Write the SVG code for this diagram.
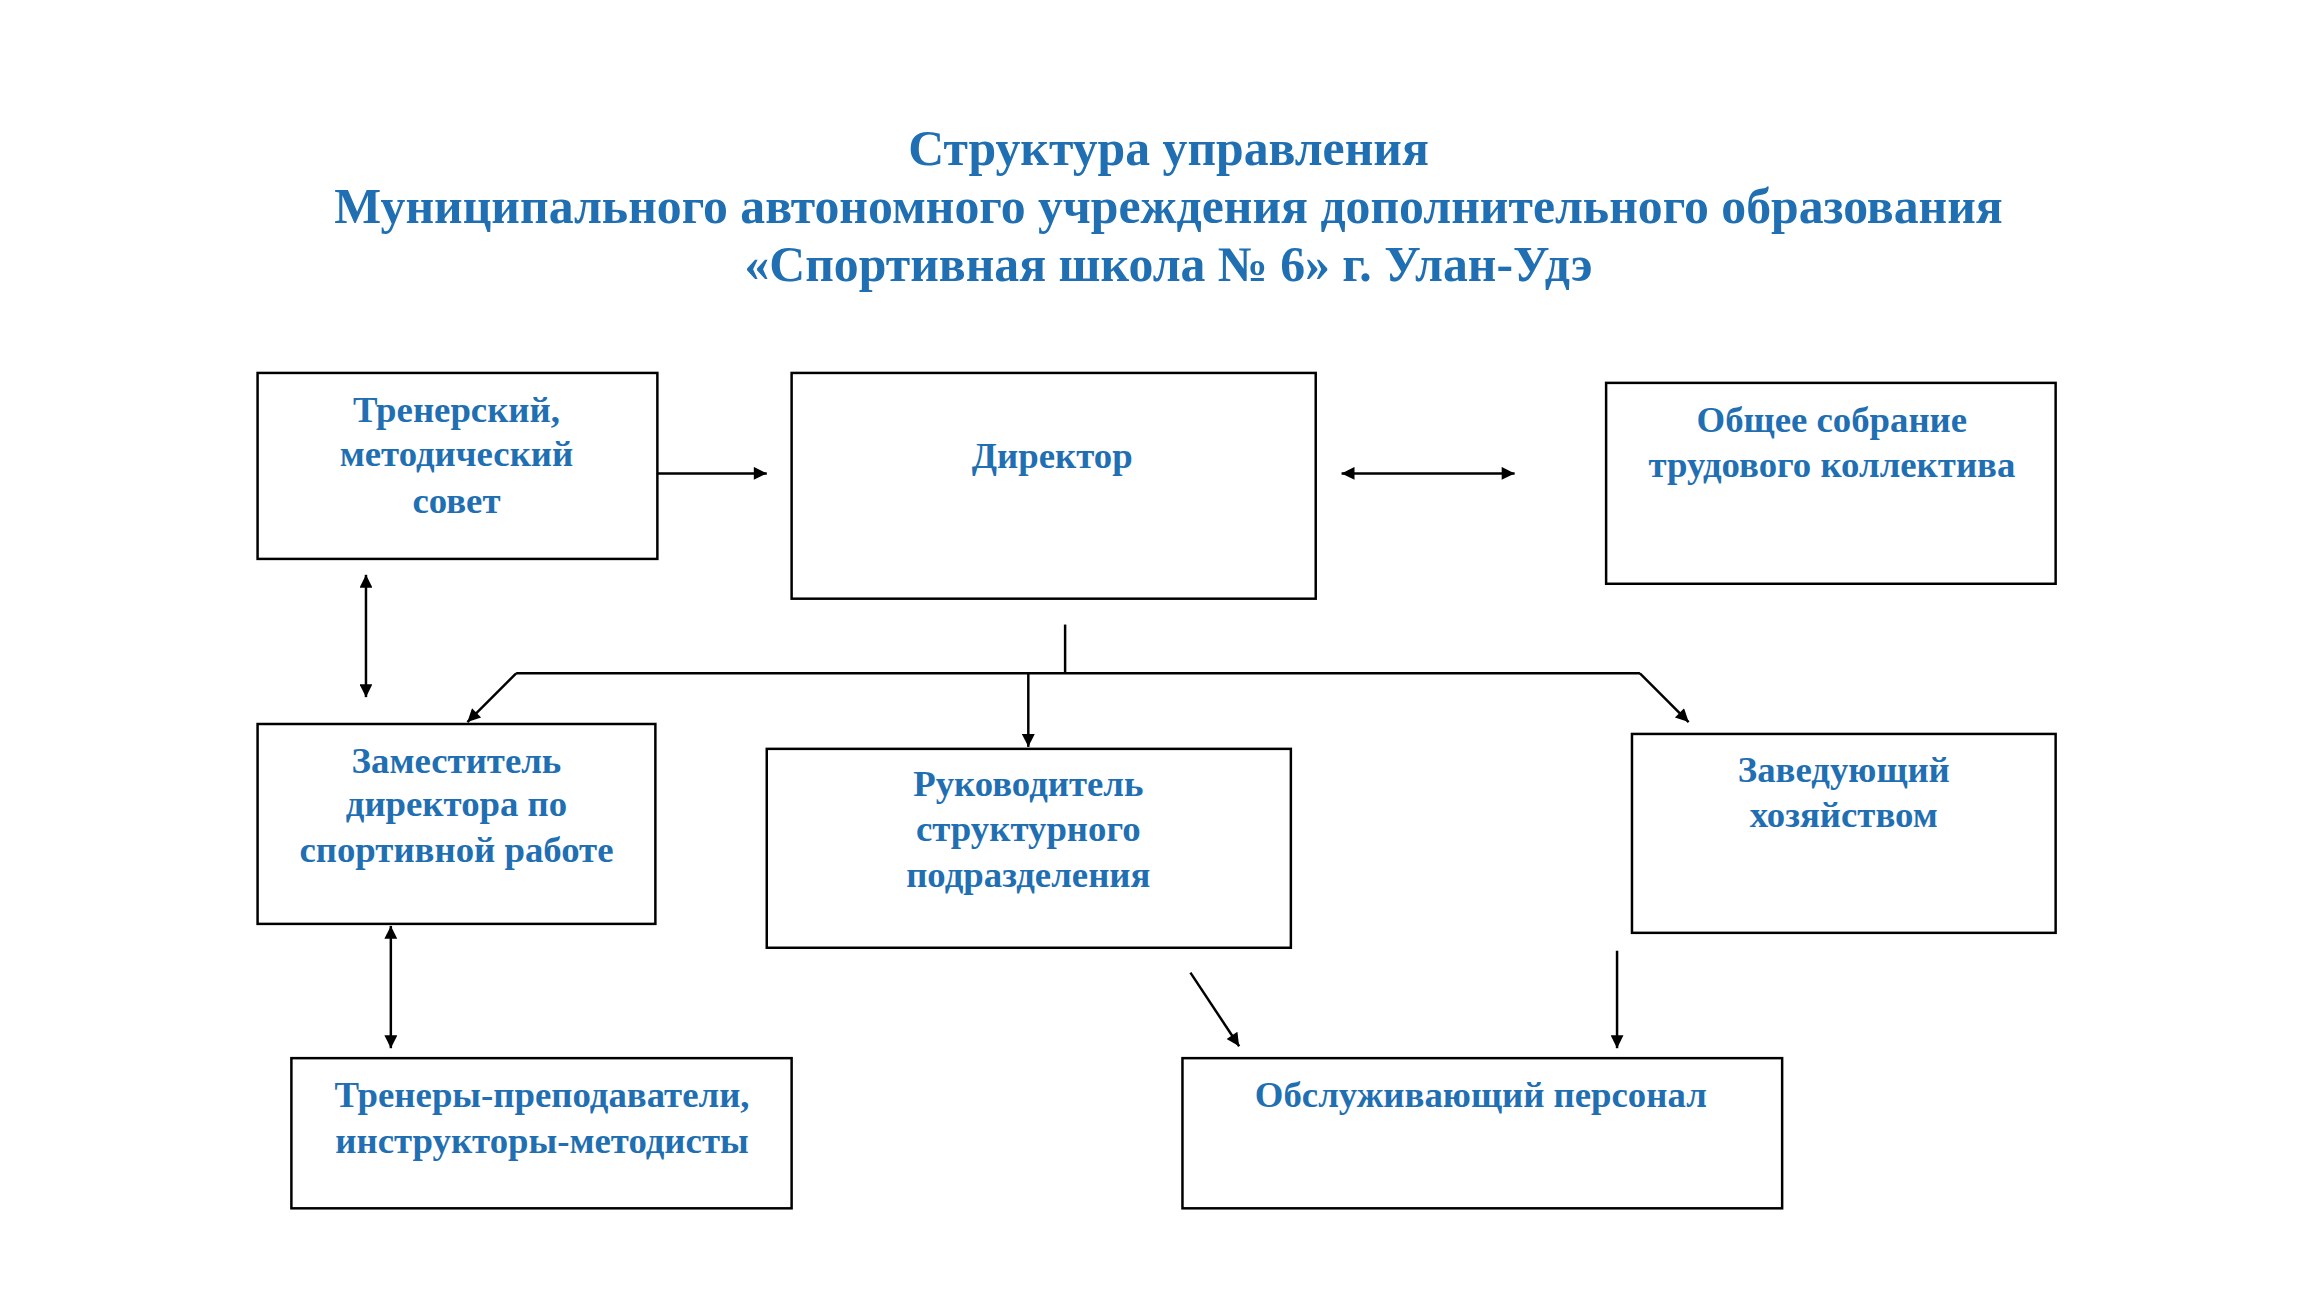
<svg xmlns="http://www.w3.org/2000/svg" width="2312" height="1316" viewBox="0 0 2312 1316">
<style>
.b{fill:#fff;stroke:#000;stroke-width:2.5}
.t{font-family:"Liberation Serif",serif;font-weight:bold;font-size:37px;fill:#1f6fb2;text-anchor:middle}
.h{font-family:"Liberation Serif",serif;font-weight:bold;font-size:50px;fill:#1f6fb2;text-anchor:middle}
.c{stroke:#000;stroke-width:2.5;fill:none}
</style>
<defs>
<marker id="a" viewBox="0 0 10 10" refX="10" refY="5" markerWidth="18" markerHeight="13" orient="auto-start-reverse" markerUnits="userSpaceOnUse"><path d="M0,0L10,5L0,10z" fill="#000"/></marker>
</defs>
<rect width="2312" height="1316" fill="#fff"/>
<g transform="scale(0.9945)">
<g id="title">
<text class="h" x="1175" y="166">Структура управления</text>
<text class="h" x="1175" y="224">Муниципального автономного учреждения дополнительного образования</text>
<text class="h" x="1175" y="283">«Спортивная школа № 6» г. Улан-Удэ</text>
</g>
<g id="n1"><rect class="b" x="259" y="375" width="402" height="187"/>
<text class="t" x="459" y="424">Тренерский,</text><text class="t" x="459" y="469">методический</text><text class="t" x="459" y="516">совет</text></g>
<g id="n2"><rect class="b" x="796" y="375" width="527" height="227"/>
<text class="t" x="1058" y="471">Директор</text></g>
<g id="n3"><rect class="b" x="1615" y="385" width="452" height="202"/>
<text class="t" x="1842" y="434">Общее собрание</text><text class="t" x="1842" y="480">трудового коллектива</text></g>
<g id="n4"><rect class="b" x="259" y="728" width="400" height="201"/>
<text class="t" x="459" y="777">Заместитель</text><text class="t" x="459" y="821">директора по</text><text class="t" x="459" y="867">спортивной работе</text></g>
<g id="n5"><rect class="b" x="771" y="753" width="527" height="200"/>
<text class="t" x="1034" y="800">Руководитель</text><text class="t" x="1034" y="846">структурного</text><text class="t" x="1034" y="892">подразделения</text></g>
<g id="n6"><rect class="b" x="1641" y="738" width="426" height="200"/>
<text class="t" x="1854" y="786">Заведующий</text><text class="t" x="1854" y="832">хозяйством</text></g>
<g id="n7"><rect class="b" x="293" y="1064" width="503" height="151"/>
<text class="t" x="545" y="1113">Тренеры-преподаватели,</text><text class="t" x="545" y="1159">инструкторы-методисты</text></g>
<g id="n8"><rect class="b" x="1189" y="1064" width="603" height="151"/>
<text class="t" x="1489" y="1113">Обслуживающий персонал</text></g>
<g id="connectors">
<line class="c" x1="661" y1="476" x2="771" y2="476" marker-end="url(#a)"/>
<line class="c" x1="1349" y1="476" x2="1523" y2="476" marker-start="url(#a)" marker-end="url(#a)"/>
<line class="c" x1="368" y1="578" x2="368" y2="701" marker-start="url(#a)" marker-end="url(#a)"/>
<line class="c" x1="1071" y1="628" x2="1071" y2="677" stroke-width="2"/>
<line class="c" x1="519" y1="677" x2="1649" y2="677" stroke-width="2"/>
<line class="c" x1="519" y1="677" x2="470" y2="726" marker-end="url(#a)"/>
<line class="c" x1="1034" y1="677" x2="1034" y2="751" marker-end="url(#a)"/>
<line class="c" x1="1649" y1="677" x2="1698" y2="726" marker-end="url(#a)"/>
<line class="c" x1="393" y1="931" x2="393" y2="1054" marker-start="url(#a)" marker-end="url(#a)"/>
<line class="c" x1="1197" y1="978" x2="1246" y2="1052" marker-end="url(#a)"/>
<line class="c" x1="1626" y1="956" x2="1626" y2="1054" marker-end="url(#a)"/>
</g>
</g>
</svg>
